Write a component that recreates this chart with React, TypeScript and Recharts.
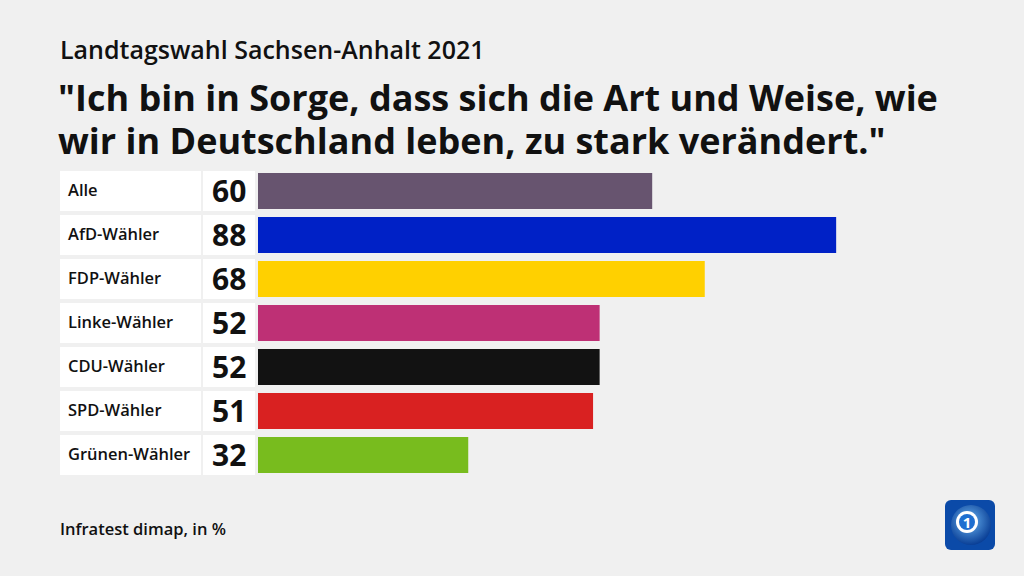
import { Bar, BarChart, Cell, XAxis, YAxis } from "recharts";

const groups = ["Alle", "AfD-Wähler", "FDP-Wähler", "Linke-Wähler", "CDU-Wähler", "SPD-Wähler", "Grünen-Wähler"];
const values = [60, 88, 68, 52, 52, 51, 32];
const colors = ["#67546f", "#0021c6", "#ffd000", "#be3075", "#121212", "#d92121", "#78bc1e"];

const data = groups.map((name, i) => ({ name, value: values[i] }));

const FONT = "'Open Sans', Lato, sans-serif";

function RowTick(props: any) {
  const { x, y, payload, index } = props;
  const v = values[index ?? payload.index];
  return (
    <g>
      <rect x={x - 192} y={y - 20} width={141} height={40} fill="#ffffff" />
      <rect x={x - 49} y={y - 20} width={52} height={40} fill="#ffffff" />
      <text x={x - 184} y={y + 5} fontSize={16.5} fontWeight={600} fill="#111" fontFamily={FONT}>
        {payload.value}
      </text>
      <text x={x - 40} y={y + 11} fontSize={30} fontWeight={700} fill="#111" fontFamily={FONT}>
        {v}
      </text>
    </g>
  );
}

function Logo() {
  return (
    <svg width={50} height={50} viewBox="0 0 50 50" style={{ position: "absolute", left: 945, top: 500 }}>
      <defs>
        <radialGradient id="g" cx="0.45" cy="0.4" r="0.6">
          <stop offset="0" stopColor="#6ab4f2" />
          <stop offset="1" stopColor="#0a3f96" />
        </radialGradient>
      </defs>
      <rect x={0} y={0} width={50} height={50} rx={6} fill="#0b4aa8" />
      <circle cx={26} cy={25} r={20} fill="url(#g)" />
      <circle cx={22} cy={22} r={11} fill="#ffffff" />
      <circle cx={22} cy={22} r={8} fill="#1f6fd0" />
      <text x={22} y={27.5} fontSize={15} fontWeight={700} textAnchor="middle" fill="#ffffff" fontFamily={FONT}>
        1
      </text>
    </svg>
  );
}

const titleLine = { position: "absolute" as const, left: 58, fontSize: 36, fontWeight: 700, lineHeight: "40px", whiteSpace: "nowrap" as const };

export default function App() {
  return (
    <div
      style={{
        position: "absolute",
        left: 0,
        top: 0,
        width: 1024,
        height: 576,
        background: "#f0f0f0",
        fontFamily: FONT,
        color: "#111",
        overflow: "hidden",
      }}
    >
      <div style={{ position: "absolute", left: 60, top: 32, fontSize: 25, fontWeight: 600, lineHeight: "34px" }}>
        Landtagswahl Sachsen-Anhalt 2021
      </div>
      <div style={{ ...titleLine, top: 78 }}>"Ich bin in Sorge, dass sich die Art und Weise, wie</div>
      <div style={{ ...titleLine, top: 121 }}>wir in Deutschland leben, zu stark verändert."</div>
      <div style={{ position: "absolute", left: 0, top: 169 }}>
        <BarChart
          width={1024}
          height={308}
          data={data}
          layout="vertical"
          margin={{ top: 0, right: 109, bottom: 0, left: 58 }}
          barCategoryGap={4}
        >
          <XAxis type="number" domain={[0, 100]} hide />
          <YAxis
            type="category"
            dataKey="name"
            width={200}
            axisLine={false}
            tickLine={false}
            tickMargin={0}
            tick={<RowTick />}
            interval={0}
          />
          <Bar dataKey="value" isAnimationActive={false}>
            {data.map((d, i) => (
              <Cell key={d.name} fill={colors[i]} />
            ))}
          </Bar>
        </BarChart>
      </div>
      <div style={{ position: "absolute", left: 60, top: 517, fontSize: 16.5, fontWeight: 600 }}>
        Infratest dimap, in %
      </div>
      <Logo />
    </div>
  );
}
